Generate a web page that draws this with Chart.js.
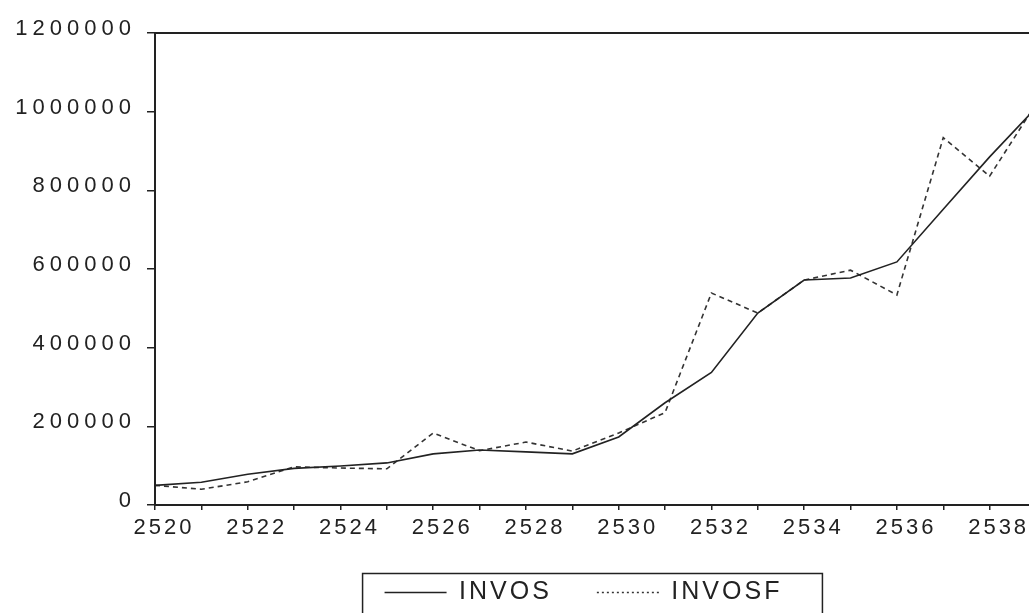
<!DOCTYPE html>
<html>
<head>
<meta charset="utf-8">
<script src="https://cdn.jsdelivr.net/npm/chart.js@4.4.1/dist/chart.umd.min.js"></script>
<style>
  html, body { margin: 0; padding: 0; background: #fff; overflow: hidden; }
  #wrap { width: 1029px; height: 613px; overflow: hidden; position: relative; }
  #box { width: 1045px; height: 615px; position: absolute; left: 0; top: 0; }
</style>
</head>
<body>
<div id="wrap"><div id="box"><canvas id="chart"></canvas></div></div>
<script>
// years (Thai Buddhist era) and the two series
const years = [2520, 2521, 2522, 2523, 2524, 2525, 2526, 2527, 2528, 2529,
               2530, 2531, 2532, 2533, 2534, 2535, 2536, 2537, 2538, 2539];
const invos = [50000, 58000, 78000, 93000, 99000, 107000, 130000, 140000, 135000, 130000,
               173000, 260000, 337000, 488000, 572000, 577000, 618000, 752000, 885000, 1010000];
const invosf = [50000, 40000, 59000, 97000, 94000, 92000, 183000, 138000, 160000, 137000,
                183000, 235000, 539000, 488000, 572000, 597000, 534000, 934000, 836000, 1020000];
const yTicks = [0, 200000, 400000, 600000, 800000, 1000000, 1200000];

const ink = '#222';
const fontFamily = '"Liberation Sans", Arial, sans-serif';

function toPoints(values) {
    return years.map((yr, i) => ({ x: yr, y: values[i] }));
}

// letter spacing + frame + legend box
const scanLook = {
    id: 'scanLook',
    beforeUpdate(chart) { chart.ctx.letterSpacing = '3px'; },
    afterLayout(chart) { chart.legend.left -= 24; }, // legend sits a bit left of the plot centre
    beforeDraw(chart) { chart.ctx.letterSpacing = '3px'; },
    afterDatasetsDraw(chart) { chart.ctx.letterSpacing = '5px'; },
    afterDraw(chart) {
        const ctx = chart.ctx;
        const a = chart.chartArea;
        ctx.save();
        ctx.letterSpacing = '0px';
        ctx.strokeStyle = ink;
        ctx.lineWidth = 2;
        ctx.strokeRect(a.left, a.top, a.right - a.left, a.bottom - a.top);

        // box around the legend
        const hb = chart.legend.legendHitBoxes;
        if (hb && hb.length) {
            const first = hb[0];
            const last = hb[hb.length - 1];
            const cy = first.top + first.height / 2;
            ctx.lineWidth = 1.5;
            ctx.strokeRect(first.left - 22, cy - 19, last.left + last.width - first.left + 62, 60);
        }
        ctx.restore();
    }
};

new Chart(document.getElementById('chart'), {
    type: 'line',
    data: {
        datasets: [{
            label: 'INVOS',
            data: toPoints(invos),
            borderColor: ink,
            borderWidth: 1.6,
            pointRadius: 0,
            tension: 0
        }, {
            label: 'INVOSF',
            data: toPoints(invosf),
            borderColor: '#333',
            borderWidth: 1.6,
            borderDash: [5, 4],
            pointRadius: 0,
            tension: 0
        }]
    },
    options: {
        responsive: true,
        maintainAspectRatio: false,
        animation: false,
        layout: { padding: { top: 33, right: 9, left: 0, bottom: 0 } },
        plugins: {
            tooltip: { enabled: false },
            legend: {
                position: 'bottom',
                fullSize: false,
                labels: {
                    color: ink,
                    font: { family: fontFamily, size: 25 },
                    usePointStyle: true,
                    pointStyle: 'line',
                    pointStyleWidth: 62,
                    padding: 45,
                    generateLabels(chart) {
                        const items = Chart.defaults.plugins.legend.labels.generateLabels(chart);
                        items.forEach((item, i) => {
                            item.lineDash = i === 1 ? [2, 3] : [];
                            item.lineWidth = 1.5;
                        });
                        return items;
                    }
                }
            }
        },
        scales: {
            x: {
                type: 'linear',
                min: 2520,
                max: 2539,
                grid: { drawOnChartArea: false, drawTicks: true, tickLength: 5, color: ink, lineWidth: 1.5 },
                border: { display: false },
                ticks: {
                    stepSize: 1,
                    autoSkip: false,
                    maxRotation: 0,
                    padding: 5,
                    labelOffset: 9,
                    color: ink,
                    font: { family: fontFamily, size: 22 },
                    callback: v => (v % 2 === 0 ? String(v) : '')
                },
                afterFit(scale) { scale.height = 30; }
            },
            y: {
                min: 0,
                max: 1200000,
                afterBuildTicks(scale) { scale.ticks = yTicks.map(v => ({ value: v })); },
                grid: { drawOnChartArea: false, drawTicks: true, tickLength: 8, color: ink, lineWidth: 1.5 },
                border: { display: false },
                ticks: {
                    z: 1,
                    padding: 11,
                    labelOffset: -4,
                    color: ink,
                    font: { family: fontFamily, size: 22 },
                    callback: v => String(v)
                },
                afterFit(scale) { scale.width = 155; }
            }
        }
    },
    plugins: [scanLook]
});
</script>
</body>
</html>
